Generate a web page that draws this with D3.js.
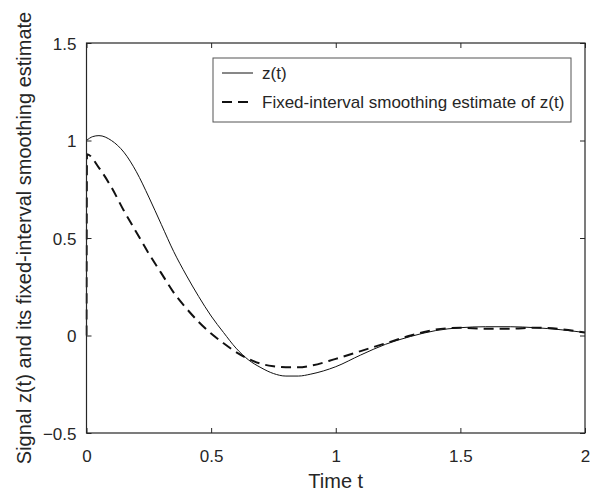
<!DOCTYPE html>
<html lang="en">
<head>
  <meta charset="UTF-8" />
  <title>Signal and fixed-interval smoothing estimate</title>
  <style>
    body {
      margin: 0;
      background: #fff;
      font-family: 'Liberation Sans', Arial, sans-serif;
    }
    svg { display: block; }
    .tick-label { font-size: 17px; fill: #262626; }
    .axis-label { font-size: 20px; fill: #262626; }
    .legend text { font-size: 17px; fill: #262626; }
  </style>
</head>
<body>
  <svg id="chart" width="593" height="494"></svg>

  <script src="https://d3js.org/d3.v7.min.js"></script>
  <script>
    // Signal z(t)
    const tSignal = [0, 0.025, 0.05, 0.1, 0.15, 0.2, 0.25, 0.3, 0.35, 0.4, 0.45, 0.5, 0.55, 0.6,
                     0.65, 0.7, 0.75, 0.8, 0.85, 0.9, 1.0, 1.1, 1.2, 1.3, 1.4, 1.5, 1.6, 1.7, 1.8, 1.9, 2.0];
    const zSignal = [1.0, 1.02, 1.025, 1.0, 0.94, 0.84, 0.71, 0.57, 0.43, 0.31, 0.2, 0.1, 0.015, -0.065,
                     -0.125, -0.165, -0.195, -0.208, -0.208, -0.198, -0.16, -0.1, -0.045, -0.005, 0.025, 0.04, 0.045, 0.045, 0.04, 0.03, 0.015];

    // Fixed-interval smoothing estimate
    const tSmooth = [0, 0.002, 0.05, 0.1, 0.15, 0.2, 0.25, 0.3, 0.35, 0.4, 0.45, 0.5, 0.55, 0.6,
                     0.65, 0.7, 0.75, 0.8, 0.85, 0.9, 1.0, 1.1, 1.2, 1.3, 1.4, 1.5, 1.6, 1.7, 1.8, 1.9, 2.0];
    const zSmooth = [0, 0.93, 0.86, 0.76, 0.64, 0.53, 0.42, 0.32, 0.22, 0.14, 0.07, 0.01, -0.04, -0.085,
                     -0.12, -0.145, -0.158, -0.163, -0.163, -0.155, -0.12, -0.08, -0.04, 0.0, 0.03, 0.04, 0.035, 0.035, 0.04, 0.033, 0.015];

    const xTicks = [0, 0.5, 1, 1.5, 2];
    const yTicks = [-0.5, 0, 0.5, 1, 1.5];
    const legendLabels = ["z(t)", "Fixed-interval smoothing estimate of z(t)"];

    const svg = d3.select("#chart");
    const margin = { top: 43, right: 8, bottom: 61, left: 86.5 };
    const width = +svg.attr("width");
    const height = +svg.attr("height");
    const plotW = width - margin.left - margin.right;
    const plotH = height - margin.top - margin.bottom;
    const axisColor = "#262626";

    const x = d3.scaleLinear().domain([0, 2]).range([0, plotW]);
    const y = d3.scaleLinear().domain([-0.5, 1.5]).range([plotH, 0]);

    const g = svg.append("g").attr("transform", `translate(${margin.left},${margin.top})`);

    svg.append("defs").append("clipPath").attr("id", "plotClip")
       .append("rect").attr("x", -1).attr("y", -1).attr("width", plotW + 2).attr("height", plotH + 2);

    // Curves
    const signal = tSignal.map((t, i) => [t, zSignal[i]]);
    const smooth = tSmooth.map((t, i) => [t, zSmooth[i]]);
    const line = d3.line()
                   .x(d => x(d[0]))
                   .y(d => y(d[1]))
                   .curve(d3.curveMonotoneX);

    const lines = g.append("g").attr("clip-path", "url(#plotClip)");
    lines.append("path")
         .datum(signal)
         .attr("fill", "none")
         .attr("stroke", "#111")
         .attr("stroke-width", 1)
         .attr("d", line);
    lines.append("path")
         .datum(smooth)
         .attr("fill", "none")
         .attr("stroke", "#111")
         .attr("stroke-width", 2)
         .attr("stroke-dasharray", "10,6")
         .attr("d", line);

    // Axes (MATLAB-style box with inward ticks)
    const tickLen = 5;
    const styleAxis = sel => {
      sel.select(".domain").remove();
      sel.selectAll(".tick line").attr("stroke", axisColor);
    };
    g.append("g").attr("transform", `translate(0,${plotH})`)
     .call(d3.axisBottom(x).tickValues(xTicks).tickSizeInner(-tickLen).tickSizeOuter(0).tickFormat(d3.format("")))
     .call(styleAxis)
     .call(a => a.selectAll(".tick text").attr("class", "tick-label").attr("y", 29).attr("dy", 0)
                 .attr("font-size", null).attr("font-family", null));
    g.append("g")
     .call(d3.axisTop(x).tickValues(xTicks).tickSizeInner(-tickLen).tickSizeOuter(0).tickFormat(""))
     .call(styleAxis);
    g.append("g")
     .call(d3.axisLeft(y).tickValues(yTicks).tickSizeInner(-tickLen).tickSizeOuter(0).tickFormat(d3.format("")))
     .call(styleAxis)
     .call(a => a.selectAll(".tick text").attr("class", "tick-label").attr("x", -10).attr("dy", "0.36em")
                 .attr("font-size", null).attr("font-family", null));
    g.append("g").attr("transform", `translate(${plotW},0)`)
     .call(d3.axisRight(y).tickValues(yTicks).tickSizeInner(-tickLen).tickSizeOuter(0).tickFormat(""))
     .call(styleAxis);
    svg.selectAll(".tick text").attr("fill", axisColor);

    g.append("rect")
     .attr("width", plotW)
     .attr("height", plotH)
     .attr("fill", "none")
     .attr("stroke", axisColor)
     .attr("stroke-width", 1.2);

    // Axis labels
    svg.append("text")
       .attr("class", "axis-label")
       .attr("x", margin.left + plotW / 2)
       .attr("y", 488)
       .attr("text-anchor", "middle")
       .text("Time t");
    svg.append("text")
       .attr("class", "axis-label")
       .attr("transform", `translate(31,${margin.top + plotH / 2}) rotate(-90)`)
       .attr("text-anchor", "middle")
       .text("Signal z(t) and its fixed-interval smoothing estimate");

    // Legend
    const legend = svg.append("g").attr("class", "legend").attr("transform", "translate(213,58)");
    legend.append("rect")
          .attr("width", 358)
          .attr("height", 64)
          .attr("fill", "#fff")
          .attr("stroke", "#555")
          .attr("stroke-width", 1);
    const rowY = [15, 44];
    const dashes = [null, "10,6"];
    const widths = [1, 2];
    legendLabels.forEach((label, i) => {
      legend.append("line")
            .attr("x1", 9).attr("x2", 40)
            .attr("y1", rowY[i]).attr("y2", rowY[i])
            .attr("stroke", "#111")
            .attr("stroke-width", widths[i])
            .attr("stroke-dasharray", dashes[i]);
      legend.append("text")
            .attr("x", 49)
            .attr("y", rowY[i])
            .attr("dy", "0.36em")
            .text(label);
    });
  </script>
</body>
</html>
